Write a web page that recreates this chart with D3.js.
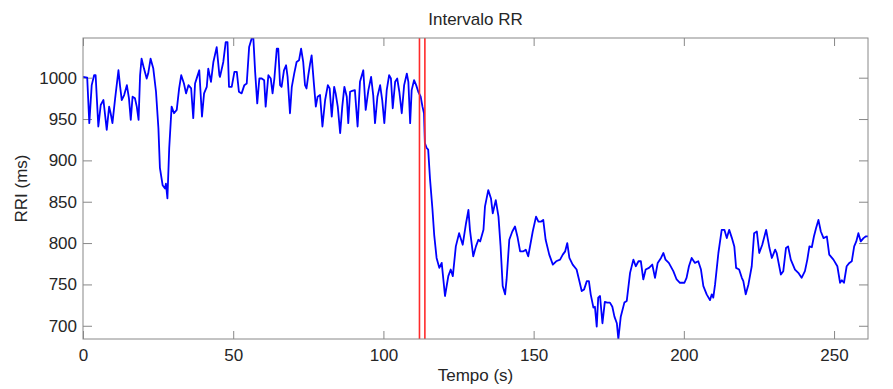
<!DOCTYPE html>
<html>
<head>
<meta charset="utf-8">
<script src="https://cdn.jsdelivr.net/npm/d3@7"></script>
<style>
  html, body { margin: 0; padding: 0; background: #fff; }
  svg text { font-family: "Liberation Sans", Arial, sans-serif; fill: #262626; }
</style>
</head>
<body>
<div id="chart"></div>
<script>
// tempo (s)
const tempo = [
  0.0, 1.4, 2.1, 2.9, 3.7, 4.2, 5.1, 5.9, 6.8, 7.9, 8.7, 9.2, 9.8, 10.7, 11.8, 12.3, 12.9, 13.7,
  14.6, 15.3, 15.9, 16.5, 17.3, 17.9, 18.5, 19.0, 19.5, 20.3, 21.2, 21.7, 22.5, 23.4, 24.3, 25.1,
  25.6, 26.5, 27.3, 27.6, 28.1, 28.7, 29.5, 30.3, 31.2, 32.0, 32.7, 33.6, 34.3, 35.1, 36.0, 36.7,
  37.3, 38.0, 38.7, 39.6, 40.3, 41.2, 41.7, 42.6, 43.4, 44.5, 45.4, 45.6, 46.7, 47.5, 48.1, 48.6,
  49.5, 50.4, 51.2, 51.9, 52.8, 53.7, 54.5, 55.3, 56.2, 56.7, 57.3, 58.0, 58.7, 59.5, 60.3, 60.8,
  61.7, 62.5, 63.1, 63.7, 64.5, 65.0, 65.6, 66.1, 66.9, 67.6, 68.1, 68.9, 69.5, 70.3, 71.1, 71.9,
  72.6, 73.3, 73.9, 74.4, 75.0, 75.6, 76.1, 76.9, 77.5, 78.1, 78.9, 79.7, 80.6, 81.5, 82.1, 82.8,
  83.6, 84.1, 84.8, 85.6, 86.3, 87.0, 87.8, 88.3, 88.9, 89.6, 90.5, 91.4, 92.2, 93.3, 94.1, 95.0,
  95.9, 96.6, 97.2, 98.0, 98.9, 99.6, 100.3, 101.1, 101.9, 102.5, 103.1, 103.9, 104.6, 105.3,
  106.1, 106.9, 107.8, 108.3, 108.9, 109.4, 110.2, 110.9, 111.6, 112.4, 113.0, 113.5, 113.8,
  114.4, 114.9, 115.5, 116.3, 116.9, 117.7, 118.6, 119.4, 120.5, 121.6, 122.4, 123.1, 124.1,
  125.2, 126.4, 127.5, 128.3, 128.8, 129.9, 130.8, 131.6, 132.2, 133.3, 133.8, 134.9, 135.8,
  136.4, 137.4, 138.3, 139.0, 139.7, 140.5, 141.0, 141.9, 142.9, 143.8, 144.6, 145.5, 146.6,
  147.4, 148.2, 149.7, 150.8, 151.6, 152.5, 153.2, 154.0, 155.2, 156.4, 157.5, 158.8, 159.7,
  160.5, 161.2, 161.9, 163.0, 164.3, 165.1, 166.0, 166.8, 167.7, 168.4, 169.0, 169.9, 170.4,
  171.0, 171.5, 172.1, 172.9, 173.7, 174.5, 175.4, 176.2, 176.9, 177.7, 178.2, 179.0, 180.2,
  181.0, 182.1, 183.2, 184.0, 184.9, 185.7, 186.5, 187.3, 188.4, 189.5, 190.4, 191.3, 192.4,
  193.2, 193.9, 195.0, 196.5, 197.6, 198.7, 200.2, 200.9, 201.7, 202.6, 203.7, 204.8, 205.7,
  206.5, 207.6, 208.7, 209.3, 209.8, 210.4, 211.5, 212.6, 213.5, 214.3, 215.1, 216.0, 216.8,
  217.4, 218.4, 219.3, 219.8, 220.6, 221.5, 222.6, 223.4, 224.3, 225.1, 226.1, 227.4, 228.5,
  229.3, 230.4, 230.9, 232.3, 233.1, 234.0, 234.7, 235.6, 237.0, 238.1, 239.2, 240.3, 241.1,
  241.8, 242.6, 243.3, 244.0, 244.8, 245.6, 246.5, 247.6, 248.4, 249.8, 251.1, 252.0, 252.6,
  253.3, 254.2, 255.1, 255.9, 256.7, 257.4, 258.1, 258.9, 259.8, 260.5, 261.3
];

// RRI (ms)
const rri = [
  1001, 1000, 945, 991, 1003, 1003, 941, 967, 973, 937, 965, 957, 945, 975, 1009, 991, 973, 979,
  991, 975, 949, 977, 975, 965, 949, 1003, 1023, 1011, 999, 1005, 1023, 1011, 983, 939,
  891, 870, 866, 872, 854, 915, 965, 957, 961, 987, 1003, 993, 981, 991, 987, 951,
  993, 1001, 1009, 953, 981, 989, 1011, 995, 1019, 1037, 1003, 1001, 1019, 1043, 1043, 989,
  989, 1007, 1007, 983, 981, 991, 993, 1037, 1048, 1048, 1007, 969, 999, 999, 997, 965,
  1003, 999, 981, 999, 1035, 1035, 991, 989, 1009, 1015, 1001, 957, 989, 1005, 1019, 1021,
  1035, 1019, 991, 987, 1003, 1017, 1027, 991, 965, 977, 979, 941, 973, 991, 987, 953,
  989, 981, 965, 933, 965, 989, 977, 945, 983, 984, 985, 941, 995, 1009, 961, 985,
  1001, 979, 945, 977, 991, 973, 945, 985, 1003, 999, 963, 995, 999, 983,
  957, 991, 1005, 995, 945, 985, 997, 991, 983, 977, 965, 957, 921,
  915, 913, 878, 842, 810, 782, 770, 776, 736, 760, 768, 760, 796,
  812, 798, 824, 840, 816, 784, 796, 804, 802, 816, 844, 864, 854,
  836, 852, 832, 796, 748, 738, 756, 804, 814, 820, 808, 790, 790,
  792, 784, 814, 832, 826, 826, 828, 804, 786, 774, 778, 780, 786,
  790, 800, 782, 774, 768, 756, 742, 744, 754, 754, 738, 722, 723,
  699, 734, 736, 703, 729, 728, 728, 723, 711, 703, 684, 711, 728,
  730, 764, 780, 772, 778, 778, 756, 768, 770, 774, 758, 776, 782,
  788, 780, 776, 766, 756, 752, 752, 758, 772, 782, 776, 778, 768,
  748, 738, 731, 738, 734, 750, 788, 816, 816, 806, 816, 806, 796,
  770, 768, 758, 754, 738, 750, 772, 812, 814, 788, 798, 816, 794,
  782, 792, 788, 762, 766, 794, 796, 780, 768, 764, 758, 766, 780,
  796, 795, 808, 818, 828, 814, 806, 808, 786, 780, 772, 752, 755,
  752, 772, 776, 778, 796, 802, 812, 802, 806, 808, 808
];

// vertical markers (s)
const marcadores = [112.0, 113.8];

const xTicks = [0, 50, 100, 150, 200, 250];
const yTicks = [700, 750, 800, 850, 900, 950, 1000];

const W = 893, H = 389;
const margin = { top: 38, right: 25, bottom: 50, left: 83 };
const iw = W - margin.left - margin.right;
const ih = H - margin.top - margin.bottom;

const svg = d3.select('#chart').append('svg').attr('width', W).attr('height', H);
svg.append('defs').append('clipPath').attr('id', 'clip-plot')
  .append('rect').attr('width', iw).attr('height', ih);

const g = svg.append('g').attr('transform', `translate(${margin.left},${margin.top})`);

const x = d3.scaleLinear().domain(d3.extent(tempo)).range([0, iw]);
const y = d3.scaleLinear().domain(d3.extent(rri)).range([ih, 0]);
const fmt = d3.format('d');

function styleAxis(sel) {
  sel.select('.domain').remove();
  sel.selectAll('.tick line').attr('stroke', '#888').attr('stroke-width', 1);
  sel.selectAll('.tick text').attr('fill', '#262626').style('font-size', '17px');
}

g.append('g').attr('transform', `translate(0,${ih})`)
  .call(d3.axisBottom(x).tickValues(xTicks).tickFormat(fmt).tickSizeInner(-8).tickSizeOuter(0).tickPadding(10))
  .call(styleAxis);
g.append('g')
  .call(d3.axisTop(x).tickValues(xTicks).tickSizeInner(-8).tickSizeOuter(0).tickFormat(''))
  .call(styleAxis);
g.append('g')
  .call(d3.axisLeft(y).tickValues(yTicks).tickFormat(fmt).tickSizeInner(-9).tickSizeOuter(0).tickPadding(6))
  .call(styleAxis);
g.append('g').attr('transform', `translate(${iw},0)`)
  .call(d3.axisRight(y).tickValues(yTicks).tickSizeInner(-9).tickSizeOuter(0).tickFormat(''))
  .call(styleAxis);

const plot = g.append('g').attr('clip-path', 'url(#clip-plot)');

const line = d3.line().x((d, i) => x(tempo[i])).y(d => y(d));
plot.append('path').datum(rri)
  .attr('d', line)
  .attr('fill', 'none').attr('stroke', '#0000ff').attr('stroke-width', 1.8)
  .attr('stroke-linejoin', 'round');

plot.selectAll('line.marker').data(marcadores).join('line')
  .attr('class', 'marker')
  .attr('x1', d => x(d)).attr('x2', d => x(d))
  .attr('y1', 0).attr('y2', ih)
  .attr('stroke', '#ff2a2a').attr('stroke-width', 1.6);

g.append('rect').attr('width', iw).attr('height', ih)
  .attr('fill', 'none').attr('stroke', '#888').attr('stroke-width', 1);

svg.append('text').attr('x', margin.left + iw / 2).attr('y', 25)
  .attr('text-anchor', 'middle').style('font-size', '17px').text('Intervalo RR');
svg.append('text').attr('x', margin.left + iw / 2).attr('y', 381)
  .attr('text-anchor', 'middle').style('font-size', '17px').text('Tempo (s)');
svg.append('text')
  .attr('transform', `translate(27,${margin.top + ih / 2}) rotate(-90)`)
  .attr('text-anchor', 'middle').style('font-size', '17px').text('RRI (ms)');
</script>
</body>
</html>
